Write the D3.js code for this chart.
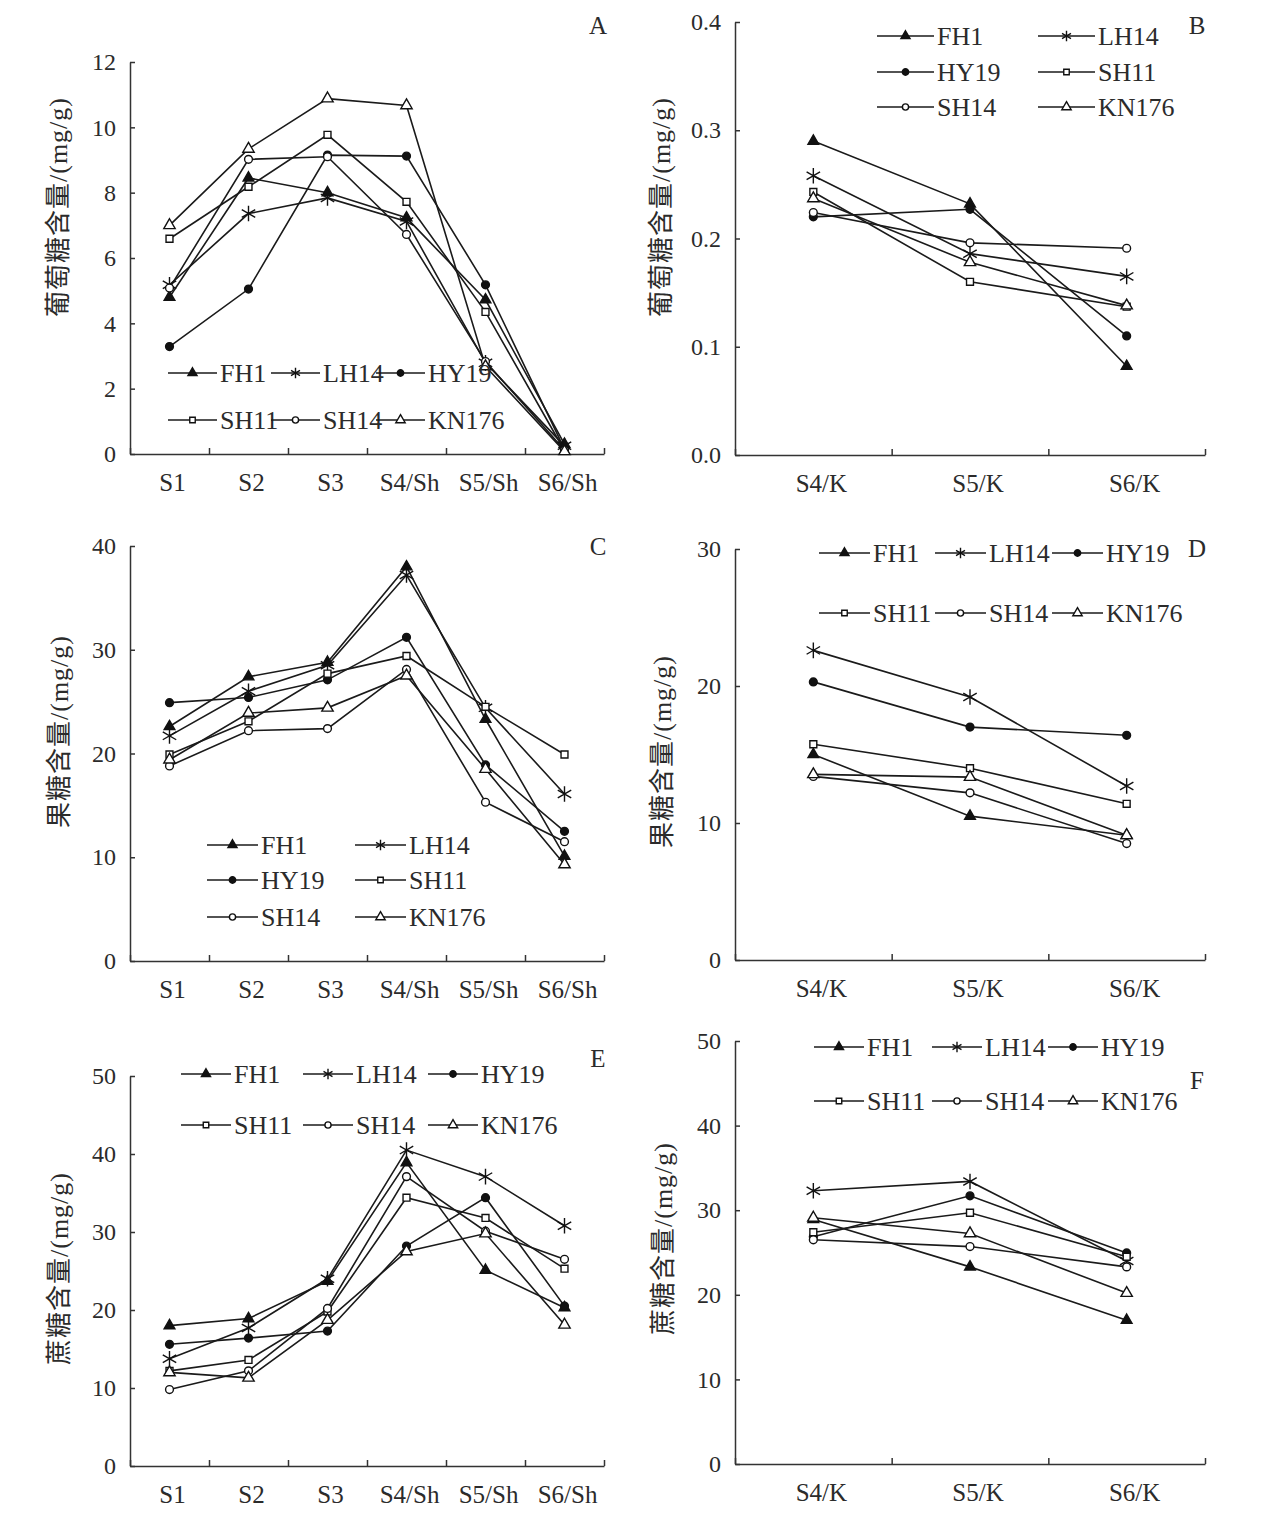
<!DOCTYPE html>
<html>
<head>
<meta charset="utf-8">
<script src="https://cdn.jsdelivr.net/npm/d3@7"></script>
<style>
body { margin: 0; background: #fff; }
svg text { font-family: "Liberation Serif", "Times New Roman", "Noto Sans CJK SC", serif; fill: #2b2b2b; }
</style>
</head>
<body>
<svg id="chart" width="1271" height="1515"></svg>
<script>
// cultivars and stages
const cultivars = ['FH1', 'LH14', 'HY19', 'SH11', 'SH14', 'KN176'];
const stagesSh = ['S1', 'S2', 'S3', 'S4/Sh', 'S5/Sh', 'S6/Sh'];
const stagesK = ['S4/K', 'S5/K', 'S6/K'];

// one row per cultivar, same order as cultivars
const glucoseSh = [
    [4.8, 8.45, 8.0, 7.23, 4.72, 0.3],
    [5.18, 7.36, 7.84, 7.12, 2.79, 0.25],
    [3.29, 5.05, 9.15, 9.12, 5.18, 0.15],
    [6.59, 8.18, 9.77, 7.72, 4.35, 0.1],
    [5.08, 9.02, 9.1, 6.72, 2.83, 0.12],
    [7.0, 9.34, 10.88, 10.67, 2.68, 0.08]
];
const glucoseK = [
    [0.290, 0.232, 0.082],
    [0.258, 0.186, 0.165],
    [0.220, 0.227, 0.110],
    [0.243, 0.160, 0.137],
    [0.224, 0.196, 0.191],
    [0.237, 0.178, 0.138]
];
const fructoseSh = [
    [22.6, 27.4, 28.8, 38.0, 23.3, 10.1],
    [21.7, 26.0, 28.5, 37.2, 24.4, 16.1],
    [24.9, 25.4, 27.1, 31.2, 18.9, 12.5],
    [19.9, 23.1, 27.7, 29.4, 24.5, 19.9],
    [18.8, 22.2, 22.4, 28.1, 15.3, 11.5],
    [19.4, 23.9, 24.4, 27.5, 18.5, 9.3]
];
const fructoseK = [
    [15.0, 10.5, 9.1],
    [22.6, 19.2, 12.7],
    [20.3, 17.0, 16.4],
    [15.75, 14.0, 11.4],
    [13.4, 12.2, 8.5],
    [13.55, 13.35, 9.1]
];
const sucroseSh = [
    [18.0, 18.9, 23.7, 38.9, 25.1, 20.3],
    [13.75, 17.7, 24.0, 40.5, 37.1, 30.8],
    [15.6, 16.4, 17.3, 28.2, 34.4, 20.5],
    [12.2, 13.6, 19.8, 34.4, 31.8, 25.3],
    [9.8, 12.2, 20.2, 37.1, 30.1, 26.5],
    [12.0, 11.3, 18.7, 27.5, 29.8, 18.1]
];
const sucroseK = [
    [28.9, 23.3, 17.0],
    [32.3, 33.4, 24.0],
    [26.85, 31.7, 24.95],
    [27.4, 29.7, 24.5],
    [26.5, 25.7, 23.3],
    [29.1, 27.25, 20.2]
];

const ticksGlucoseSh = [0, 2, 4, 6, 8, 10, 12];
const ticksGlucoseK = [0, 0.1, 0.2, 0.3, 0.4];
const ticksFructoseSh = [0, 10, 20, 30, 40];
const ticksFructoseK = [0, 10, 20, 30];
const ticksSucrose = [0, 10, 20, 30, 40, 50];

const titleGlucose = '葡萄糖含量/(mg/g)';
const titleFructose = '果糖含量/(mg/g)';
const titleSucrose = '蔗糖含量/(mg/g)';

// marker for each cultivar
const markers = [
    {type: d3.symbolTriangle, fill: '#111', size: 50, small: 36},
    {type: d3.symbolAsterisk, fill: 'none', size: 170, small: 75},
    {type: d3.symbolCircle, fill: '#111', size: 48, small: 32},
    {type: d3.symbolSquare, fill: '#fff', size: 48, small: 30},
    {type: d3.symbolCircle, fill: '#fff', size: 48, small: 30},
    {type: d3.symbolTriangle, fill: '#fff', size: 56, small: 38}
];

const svg = d3.select('#chart');

function drawMarker(g, i, cx, cy, small) {
    let m = markers[i];
    g.append('path')
        .attr('d', d3.symbol().type(m.type).size(small ? m.small : m.size)())
        .attr('transform', `translate(${cx},${cy})`)
        .attr('fill', m.fill)
        .attr('stroke', '#111')
        .attr('stroke-width', 1.4);
}

function drawPanel(p) {
    let g = svg.append('g');
    let n = p.stages.length;
    let x = d3.scaleBand().domain(p.stages).range([p.left, p.right]);
    let xEdge = d3.scaleLinear().domain([0, n]).range([p.left, p.right]);
    let y = d3.scaleLinear().domain([0, p.ticks[p.ticks.length - 1]]).range([p.bottom, p.top]);

    // y axis
    g.append('g')
        .attr('transform', `translate(${p.left},0)`)
        .attr('color', '#333')
        .call(d3.axisLeft(y).tickValues(p.ticks).tickFormat(p.fmt)
            .tickSizeInner(-5).tickSizeOuter(0).tickPadding(14))
        .call(a => a.selectAll('path,line').attr('stroke-width', 1.5))
        .call(a => a.selectAll('text').style('font-size', '24px'));

    // x axis with ticks on category edges
    g.append('g')
        .attr('transform', `translate(0,${p.bottom})`)
        .attr('color', '#333')
        .call(d3.axisBottom(xEdge).tickValues(d3.range(n + 1)).tickFormat('')
            .tickSizeInner(-6).tickSizeOuter(0))
        .call(a => a.selectAll('path,line').attr('stroke-width', 1.5));

    // category labels
    g.append('g')
        .attr('transform', `translate(${p.labelShift},${p.bottom})`)
        .call(d3.axisBottom(x).tickSize(0).tickPadding(19))
        .call(a => a.select('.domain').remove())
        .call(a => a.selectAll('text').style('font-size', '25px'));

    // y title
    g.append('text')
        .attr('transform', `translate(${p.titleX},${p.titleBottom}) rotate(-90)`)
        .attr('dominant-baseline', 'central')
        .style('font-size', '26px')
        .style('letter-spacing', '1px')
        .text(p.title);

    // panel letter
    g.append('text')
        .attr('x', p.letterX).attr('y', p.letterY)
        .attr('text-anchor', 'middle')
        .attr('dominant-baseline', 'central')
        .style('font-size', '25px')
        .text(p.letter);

    let line = d3.line()
        .x((d, j) => x(p.stages[j]) + x.bandwidth() / 2)
        .y(d => y(d));

    p.values.forEach(vals => {
        g.append('path')
            .attr('d', line(vals))
            .attr('fill', 'none')
            .attr('stroke', '#1a1a1a')
            .attr('stroke-width', 1.6);
    });
    p.values.forEach((vals, i) => {
        vals.forEach((v, j) => drawMarker(g, i, x(p.stages[j]) + x.bandwidth() / 2, y(v), false));
    });

    // legend
    let lg = p.legend;
    cultivars.forEach((name, i) => {
        let lx = lg.x[i % lg.cols];
        let ly = lg.y[Math.floor(i / lg.cols)];
        g.append('line')
            .attr('x1', lx).attr('x2', lx + lg.len)
            .attr('y1', ly).attr('y2', ly)
            .attr('stroke', '#1a1a1a').attr('stroke-width', 1.5);
        drawMarker(g, i, lx + lg.len / 2, ly, true);
        g.append('text')
            .attr('x', lx + lg.len + 3).attr('y', ly)
            .attr('dominant-baseline', 'central')
            .style('font-size', '26px')
            .text(name);
    });
}

const fmtInt = d3.format('d');
const fmtOne = d3.format('.1f');

let panels = [
    {letter: 'A', stages: stagesSh, values: glucoseSh, ticks: ticksGlucoseSh, fmt: fmtInt,
        left: 130, right: 604, top: 62, bottom: 454, labelShift: 3,
        title: titleGlucose, titleX: 58, titleBottom: 317, letterX: 598, letterY: 25,
        legend: {cols: 3, x: [168, 271, 376], y: [373, 420], len: 49}},
    {letter: 'B', stages: stagesK, values: glucoseK, ticks: ticksGlucoseK, fmt: fmtOne,
        left: 735, right: 1205, top: 22, bottom: 455, labelShift: 8,
        title: titleGlucose, titleX: 661, titleBottom: 317, letterX: 1197, letterY: 25,
        legend: {cols: 2, x: [877, 1038], y: [36, 72, 107], len: 57}},
    {letter: 'C', stages: stagesSh, values: fructoseSh, ticks: ticksFructoseSh, fmt: fmtInt,
        left: 130, right: 604, top: 546, bottom: 961, labelShift: 3,
        title: titleFructose, titleX: 59, titleBottom: 828, letterX: 598, letterY: 546,
        legend: {cols: 2, x: [207, 355], y: [845, 880, 917], len: 51}},
    {letter: 'D', stages: stagesK, values: fructoseK, ticks: ticksFructoseK, fmt: fmtInt,
        left: 735, right: 1205, top: 549, bottom: 960, labelShift: 8,
        title: titleFructose, titleX: 662, titleBottom: 848, letterX: 1197, letterY: 548,
        legend: {cols: 3, x: [819, 935, 1052], y: [553, 613], len: 51}},
    {letter: 'E', stages: stagesSh, values: sucroseSh, ticks: ticksSucrose, fmt: fmtInt,
        left: 130, right: 604, top: 1076, bottom: 1466, labelShift: 3,
        title: titleSucrose, titleX: 59, titleBottom: 1365, letterX: 598, letterY: 1058,
        legend: {cols: 3, x: [181, 303, 428], y: [1074, 1125], len: 50}},
    {letter: 'F', stages: stagesK, values: sucroseK, ticks: ticksSucrose, fmt: fmtInt,
        left: 735, right: 1205, top: 1041, bottom: 1464, labelShift: 8,
        title: titleSucrose, titleX: 663, titleBottom: 1335, letterX: 1197, letterY: 1080,
        legend: {cols: 3, x: [814, 932, 1048], y: [1047, 1101], len: 50}}
];

panels.forEach(drawPanel);
</script>
</body>
</html>
